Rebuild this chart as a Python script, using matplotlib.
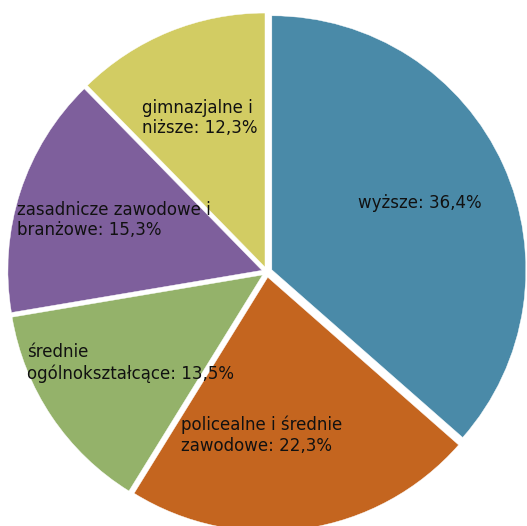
import matplotlib
matplotlib.use('Agg')
import matplotlib.pyplot as plt

# education level shares (%)
labels = ['wyższe: 36,4%',
          'policealne i średnie\nzawodowe: 22,3%',
          'średnie\nogólnokształcące: 13,5%',
          'zasadnicze zawodowe i\nbranżowe: 15,3%',
          'gimnazjalne i\nniższe: 12,3%']
values = [36.4, 22.3, 13.5, 15.3, 12.3]
colors = ['#4a8aa8', '#c4651f', '#94b26a', '#7e5f9c', '#d2cc63']

# label anchors in pixels (left edge, vertical centre) measured from top-left
label_px = [(358, 203), (181, 435), (27, 363), (17, 220), (142, 118)]

W, H = 527, 526
fig = plt.figure(figsize=(W/100.0, H/100.0), dpi=100)
ax = fig.add_axes([0, 0, 1, 1])

wedges, _ = ax.pie(values, colors=colors, startangle=90, counterclock=False,
                   explode=[0.021]*len(values), radius=1.0,
                   wedgeprops=dict(edgecolor='white', linewidth=0.3))

# pie centre at (267, 272) px, radius 254 px
s = 254.0
cx, cy = 267.0, 272.0
ax.set_aspect('auto')
ax.set_xlim(-cx/s, (W-cx)/s)
ax.set_ylim(-(H-cy)/s, cy/s)
ax.axis('off')

for lab, (px, py) in zip(labels, label_px):
    fig.text(px/W, 1-py/H, lab, ha='left', va='center', fontsize=12,
             color='#111111', linespacing=1.2)

fig.savefig('out.png', dpi=100)
